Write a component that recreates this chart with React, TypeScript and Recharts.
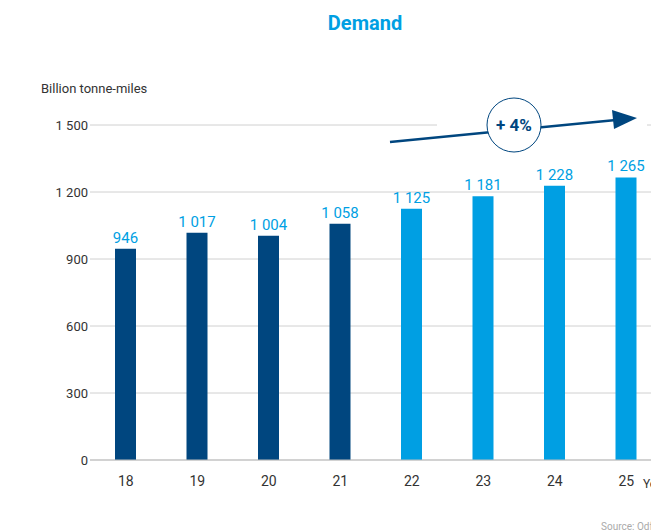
import React from "react";
import { BarChart, Bar, XAxis, YAxis, CartesianGrid, LabelList, Cell } from "recharts";

const years = ["18", "19", "20", "21", "22", "23", "24", "25"];
const demand = [946, 1017, 1004, 1058, 1125, 1181, 1228, 1265];
const forecast = [false, false, false, false, true, true, true, true];
const yTicks = [0, 300, 600, 900, 1200, 1500];

const NAVY = "#00467f";
const BLUE = "#009fe3";
const FONT = "Roboto, 'Noto Sans', sans-serif";

const data = years.map((y, i) => ({ year: y, value: demand[i], forecast: forecast[i] }));

// thousands separated by a non-breaking space so labels stay on one line
const fmt = (v: number) => {
  const s = String(Math.round(v));
  return s.replace(/\B(?=(\d{3})+(?!\d))/g, "\u00a0");
};

export default function App() {
  return (
    <div style={{ margin: "-8px 0 0 -8px", width: 659, height: 531, overflow: "hidden", position: "relative", background: "#fff", fontFamily: FONT }}>
      <BarChart
        width={720}
        height={531}
        data={data}
        margin={{ top: 125, right: 58, bottom: 41, left: 0 }}
        barCategoryGap={0}
      >
        <CartesianGrid vertical={false} stroke="#d0d0d0" strokeWidth={1} />
        <XAxis
          dataKey="year"
          height={30}
          axisLine={{ stroke: "#bdbdbd" }}
          tickLine={false}
          tickSize={0}
          tickMargin={16}
          tick={{ fill: "#333", fontSize: 14, fontFamily: FONT }}
        />
        <YAxis
          width={90}
          domain={[0, 1500]}
          ticks={yTicks}
          axisLine={false}
          tickLine={false}
          tickSize={0}
          tickMargin={2}
          tickFormatter={fmt}
          tick={{ fill: "#333", fontSize: 13, fontFamily: FONT }}
        />
        <Bar dataKey="value" barSize={21} isAnimationActive={false}>
          {data.map((d, i) => (
            <Cell key={i} fill={d.forecast ? BLUE : NAVY} />
          ))}
          <LabelList
            dataKey="value"
            position="top"
            offset={6}
            formatter={(v: number) => fmt(v)}
            style={{ fill: BLUE, fontSize: 15, fontFamily: FONT }}
          />
        </Bar>
      </BarChart>
      <svg width={659} height={531} style={{ position: "absolute", left: 0, top: 0, pointerEvents: "none" }}>
        <text x={365} y={30} textAnchor="middle" fill={BLUE} fontSize={20} fontWeight={700} fontFamily={FONT}>
          Demand
        </text>
        <text x={41} y={93} fill="#333" fontSize={13} fontFamily={FONT}>
          Billion tonne-miles
        </text>
        <rect x={437} y={110} width={210} height={30} fill="#fff" />
        <line x1={390} y1={142} x2={616} y2={120} stroke={NAVY} strokeWidth={2.5} />
        <polygon points="637,118 612,110 614,129" fill={NAVY} />
        <circle cx={514} cy={125} r={27} fill="#fff" stroke={NAVY} strokeWidth={1} />
        <text x={514} y={131} textAnchor="middle" fill={NAVY} fontSize={17} fontWeight={700} fontFamily={FONT}>
          + 4%
        </text>
        <text x={643} y={488} fill="#333" fontSize={12} fontFamily={FONT}>
          Year
        </text>
        <text x={601} y={530} fill="#aaa" fontSize={10} fontFamily={FONT}>
          Source: Odfjell
        </text>
      </svg>
    </div>
  );
}
